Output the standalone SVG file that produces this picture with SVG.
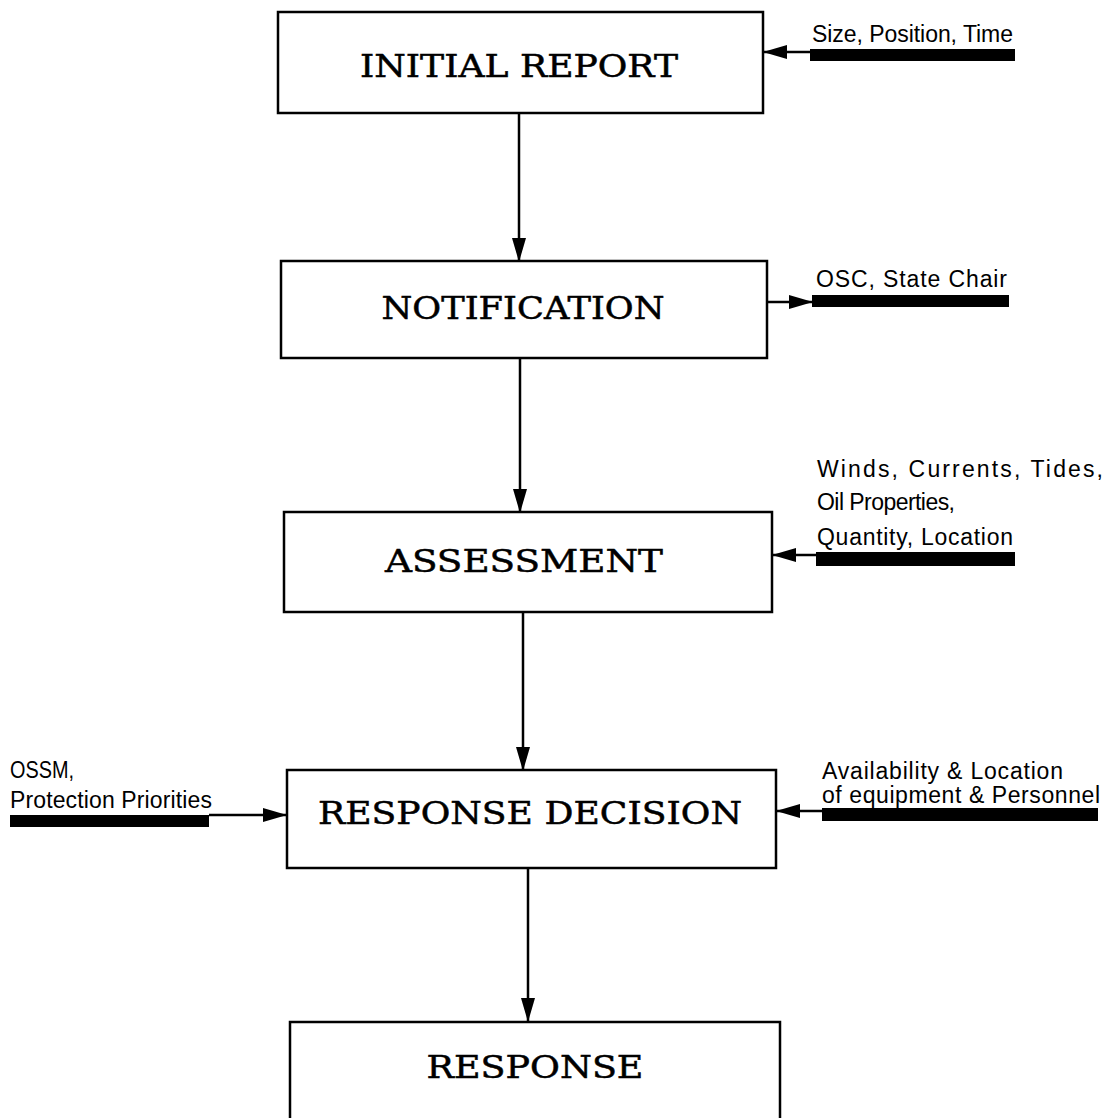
<svg xmlns="http://www.w3.org/2000/svg" width="1120" height="1118" viewBox="0 0 1120 1118">
<style>
.box{fill:#fff;stroke:#000;stroke-width:2.5}
.ttl{font-family:"DejaVu Serif","Liberation Serif",serif;font-size:31px;fill:#000;stroke:#000;stroke-width:0.5;text-anchor:middle}
.lbl{font-family:"Liberation Sans",Arial,sans-serif;font-size:23px;fill:#000}
.ln{stroke:#000;stroke-width:2.5;fill:none}
.bar{fill:#000}
</style>
<defs>
<marker id="ah" markerUnits="userSpaceOnUse" markerWidth="24" markerHeight="14" refX="23" refY="7" orient="auto">
<path d="M0,0 L24,7 L0,14 Z" fill="#000"/>
</marker>
</defs>
<rect width="1120" height="1118" fill="#fff"/>
<g id="connectors">
<line class="ln" x1="519" y1="113" x2="519" y2="261" marker-end="url(#ah)"/>
<line class="ln" x1="520" y1="358" x2="520" y2="512" marker-end="url(#ah)"/>
<line class="ln" x1="523" y1="612" x2="523" y2="770" marker-end="url(#ah)"/>
<line class="ln" x1="528" y1="868" x2="528" y2="1021" marker-end="url(#ah)"/>
<line class="ln" x1="812" y1="52" x2="764" y2="52" marker-end="url(#ah)"/>
<line class="ln" x1="767" y1="302" x2="812" y2="302" marker-end="url(#ah)"/>
<line class="ln" x1="816" y1="555" x2="773" y2="555" marker-end="url(#ah)"/>
<line class="ln" x1="209" y1="815" x2="286" y2="815" marker-end="url(#ah)"/>
<line class="ln" x1="822" y1="811" x2="777" y2="811" marker-end="url(#ah)"/>
</g>
<g id="initial-report">
<rect class="box" x="278" y="12" width="485" height="101"/>
<text class="ttl" x="519" y="77" textLength="318" lengthAdjust="spacingAndGlyphs">INITIAL REPORT</text>
</g>
<g id="notification">
<rect class="box" x="281" y="261" width="486" height="97"/>
<text class="ttl" x="523" y="319" textLength="283" lengthAdjust="spacingAndGlyphs">NOTIFICATION</text>
</g>
<g id="assessment">
<rect class="box" x="284" y="512" width="488" height="100"/>
<text class="ttl" x="524" y="572" textLength="278" lengthAdjust="spacingAndGlyphs">ASSESSMENT</text>
</g>
<g id="response-decision">
<rect class="box" x="287" y="770" width="489" height="98"/>
<text class="ttl" x="530" y="824" textLength="424" lengthAdjust="spacingAndGlyphs">RESPONSE DECISION</text>
</g>
<g id="response">
<rect class="box" x="290" y="1022" width="490" height="110"/>
<text class="ttl" x="535" y="1078" textLength="217" lengthAdjust="spacingAndGlyphs">RESPONSE</text>
</g>
<g id="input-size">
<rect class="bar" x="810" y="49" width="205" height="12"/>
<text class="lbl" x="812" y="42" textLength="201" lengthAdjust="spacing">Size, Position, Time</text>
</g>
<g id="output-osc">
<rect class="bar" x="812" y="295" width="197" height="12"/>
<text class="lbl" x="816" y="287" textLength="191" lengthAdjust="spacing">OSC, State Chair</text>
</g>
<g id="input-winds">
<rect class="bar" x="816" y="552" width="199" height="14"/>
<text class="lbl" x="817" y="477" font-size="24" textLength="286" lengthAdjust="spacing">Winds, Currents, Tides,</text>
<text class="lbl" x="817" y="510" textLength="138" lengthAdjust="spacing">Oil Properties,</text>
<text class="lbl" x="817" y="545" textLength="196" lengthAdjust="spacing">Quantity, Location</text>
</g>
<g id="input-ossm">
<rect class="bar" x="10" y="815" width="199" height="12"/>
<text class="lbl" x="10" y="778" textLength="64" lengthAdjust="spacingAndGlyphs">OSSM,</text>
<text class="lbl" x="10" y="808" textLength="202" lengthAdjust="spacing">Protection Priorities</text>
</g>
<g id="input-availability">
<rect class="bar" x="822" y="808" width="276" height="13"/>
<text class="lbl" x="822" y="779" textLength="241" lengthAdjust="spacing">Availability &amp; Location</text>
<text class="lbl" x="822" y="803" textLength="278" lengthAdjust="spacing">of equipment &amp; Personnel</text>
</g>
</svg>
